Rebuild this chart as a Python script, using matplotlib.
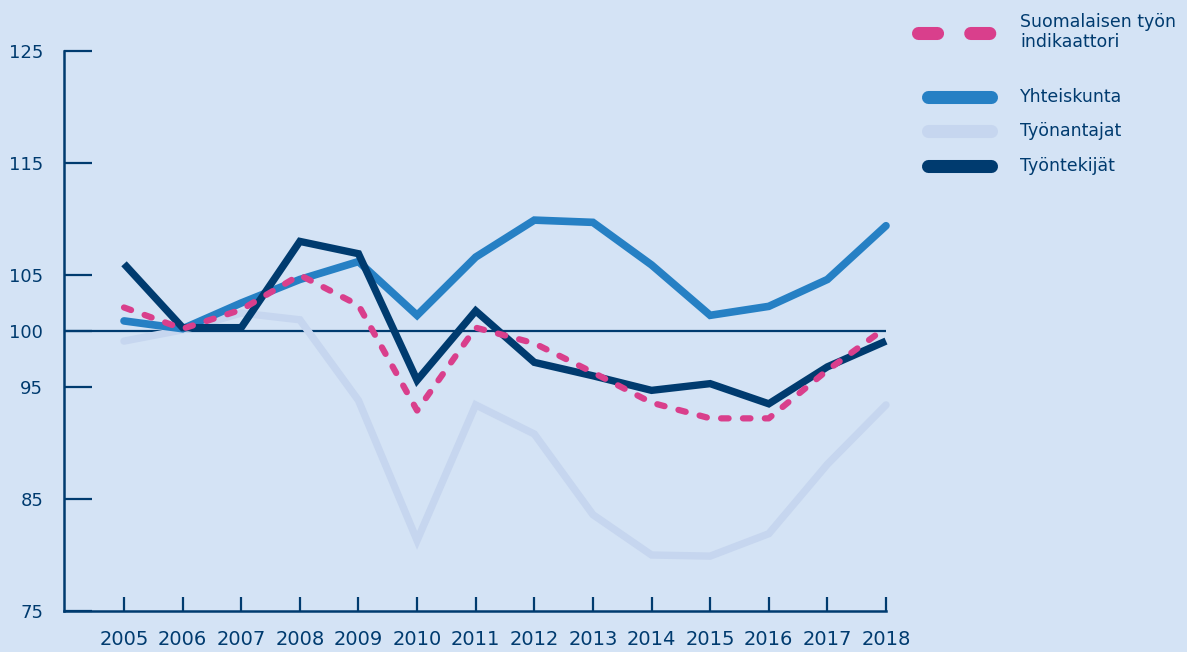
import matplotlib
matplotlib.use("Agg")
import matplotlib.pyplot as plt
from matplotlib.lines import Line2D

plt.rcParams['font.family'] = ['DejaVu Sans']

vuodet = [2005, 2006, 2007, 2008, 2009, 2010, 2011, 2012, 2013, 2014, 2015, 2016, 2017, 2018]

indikaattori = [102.1, 100.2, 101.9, 105.0, 102.3, 92.9, 100.3, 98.9, 96.3, 93.6, 92.2, 92.2, 96.5, 100.3]
yhteiskunta = [100.9, 100.2, 102.5, 104.6, 106.2, 101.4, 106.6, 109.9, 109.7, 105.9, 101.4, 102.2, 104.6, 109.4]
tyonantajat = [99.1, 100.1, 101.6, 101.0, 93.8, 81.3, 93.4, 90.8, 83.6, 80.0, 79.9, 81.9, 88.1, 93.4]
tyontekijat = [106.0, 100.3, 100.3, 108.0, 106.9, 95.6, 101.8, 97.2, 96.0, 94.7, 95.3, 93.5, 96.8, 99.1]

y_ticks = [75, 85, 95, 100, 105, 115, 125]

tausta = '#d4e3f5'
navy = '#003b6f'
sininen = '#2680c4'
vaalea = '#c6d6ef'
pinkki = '#d93f8c'

W, H = 1187, 652
fig = plt.figure(figsize=(W / 100, H / 100), dpi=100, facecolor=tausta)
ax = fig.add_axes([64 / W, 1 - 611 / H, (886 - 64) / W, (611 - 51) / H])
ax.set_facecolor(tausta)

ax.axhline(100, color=navy, lw=1.6, zorder=1)

ax.plot(vuodet, tyonantajat, color=vaalea, lw=5.3, solid_capstyle='round',
        solid_joinstyle='miter', clip_on=False, zorder=2)
ax.plot(vuodet, yhteiskunta, color=sininen, lw=5.5, solid_capstyle='round',
        solid_joinstyle='miter', clip_on=False, zorder=3)
ax.plot(vuodet, tyontekijat, color=navy, lw=5.3, solid_capstyle='butt',
        solid_joinstyle='miter', clip_on=False, zorder=4)
ax.plot(vuodet, indikaattori, color=pinkki, lw=4.5, dashes=(1.2, 2.3),
        dash_capstyle='round', clip_on=False, zorder=5)

ax.set_xlim(2005 - 60 / 58.6, 2018)
ax.set_ylim(75, 125)
ax.set_xticks(vuodet)
ax.set_yticks(y_ticks)
ax.set_xticklabels([str(v) for v in vuodet])

for s in ['top', 'right']:
    ax.spines[s].set_visible(False)
for s in ['left', 'bottom']:
    ax.spines[s].set_color(navy)
    ax.spines[s].set_linewidth(1.8)

ax.tick_params(axis='y', direction='in', length=20, width=1.6, color=navy,
               labelcolor=navy, labelsize=13, pad=15)
ax.tick_params(axis='x', direction='in', length=10, width=1.6, color=navy,
               labelcolor=navy, labelsize=14, pad=14)

# selite
def px(x, y):
    return x / W, 1 - y / H

x0, y0 = px(917.5, 33)
x1, _ = px(989.5, 33)
fig.add_artist(Line2D([x0, x1], [y0, y0], color=pinkki, lw=9.4,
                      dashes=(1.46, 2.54), dash_capstyle='round'))
for yy, c in [(97, sininen), (131, vaalea), (166, navy)]:
    xa, ya = px(928, yy)
    xb, _ = px(991, yy)
    fig.add_artist(Line2D([xa, xb], [ya, ya], color=c, lw=9.4, solid_capstyle='round'))

tekstit = [(32, 'Suomalaisen työn\nindikaattori'), (97, 'Yhteiskunta'),
           (131, 'Työnantajat'), (166, 'Työntekijät')]
for yy, t in tekstit:
    xt, yt = px(1020, yy)
    fig.text(xt, yt, t, color=navy, fontsize=12.5, va='center', ha='left', linespacing=1.1)

fig.savefig('out.png', dpi=100, facecolor=tausta)
